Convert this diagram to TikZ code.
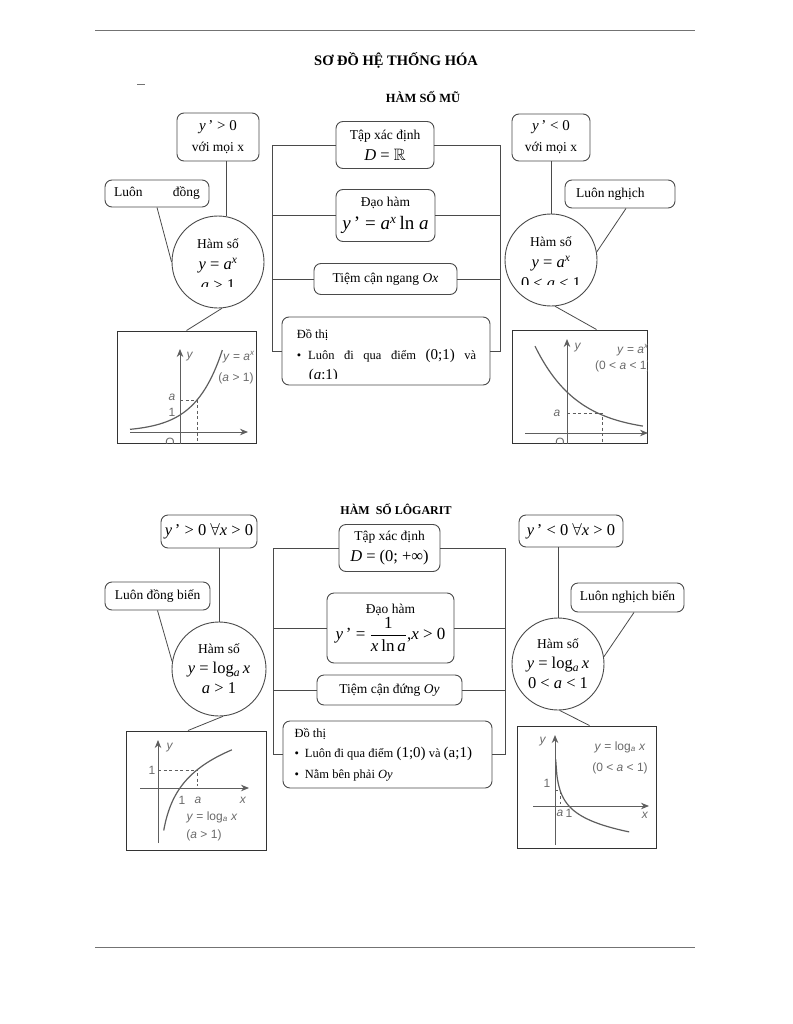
\documentclass[tikz,border=0pt]{standalone}
\usepackage{amsmath,amssymb}
\usepackage{fontspec}
\setmainfont{Liberation Serif}
\newfontfamily\gfont{Liberation Sans}
\usetikzlibrary{calc,arrows.meta}
\definecolor{linec}{HTML}{4A4A4A}
\definecolor{gline}{HTML}{5E5E5E}
\definecolor{gtext}{HTML}{6A6A6A}
\newcommand\bodyf{\fontsize{13.5}{21}\selectfont}
\newcommand\smallf{\fontsize{12.5}{20.5}\selectfont}
\newcommand\mathf{\fontsize{16.5}{21}\selectfont}
\newcommand\mathm{\fontsize{15}{20}\selectfont}
\newcommand\mi[1]{\textit{#1}}
\tikzset{
 conn/.style={draw=linec, line width=0.8pt},
 rulel/.style={draw=black!55, line width=0.6pt},
 rbox/.style={draw=linec, line width=0.9pt, rounded corners=7pt, align=center, inner sep=0pt, font=\bodyf},
 circ/.style={draw=linec, line width=0.9pt, circle, inner sep=0pt},
 gbox/.style={draw=black!80, line width=1pt, rectangle, inner sep=0pt},
 gax/.style={draw=gline, line width=1pt, -{Stealth[length=8pt,width=6.5pt]}},
 gcurve/.style={draw=gline, line width=1.2pt},
 gdash/.style={draw=gline, line width=0.9pt, dash pattern=on 3pt off 2.5pt},
 glab/.style={text=gtext, font=\gfont\fontsize{12}{14}\selectfont, inner sep=0pt},
 ctext/.style={draw=none, rectangle, align=center, inner sep=0pt, font=\bodyf},
}
\begin{document}
\begin{tikzpicture}[x=1pt,y=-1pt]
\useasboundingbox (0,0) rectangle (792,1024);
% page rules
\draw[rulel] (95,30) -- (695,30);
\draw[rulel] (95,947) -- (695,947);
\draw[rulel] (137,84) -- (145,84);
% titles
\node[font=\bfseries\fontsize{14.5}{17}\selectfont] (title) at (396,60) {SƠ ĐỒ HỆ THỐNG HÓA};
\node[font=\bfseries\fontsize{12.5}{15}\selectfont] (sub1) at (423,97) {HÀM SỐ MŨ};
\node[font=\bfseries\fontsize{12}{15}\selectfont] (sub2) at (396,509) {HÀM\ \ SỐ LÔGARIT};

% ===================== HAM SO MU =====================
\node[rbox, minimum width=82, minimum height=48] (b1) at (218,137) {{\mathm\mi{y}\,' > 0}\\với mọi x};
\node[rbox, minimum width=104, minimum height=27] (b2) at (157,193.5) {\makebox[86pt][s]{Luôn đồng}};
\node[rbox, minimum width=78, minimum height=47] (b3) at (551,137.5) {{\mathm\mi{y}\,' < 0}\\với mọi x};
\node[rbox, minimum width=110, minimum height=28] (b4) at (620,194) {\makebox[96pt][l]{\hspace{4pt}Luôn nghịch}};

\node[circ, minimum size=92, path picture={
  \clip ([xshift=-50pt,yshift=50pt]path picture bounding box.center) rectangle ([xshift=50pt,yshift=-24pt]path picture bounding box.center);
  \node[ctext] at ([yshift=-3pt]path picture bounding box.center) {Hàm số\\{\mathf\mi{y} = \mi{a}\textsuperscript{\mi{x}}}\\{\mathf\mi{a} > 1}};
}] (c1) at (218,262) {};
\node[circ, minimum size=92, path picture={
  \clip ([xshift=-50pt,yshift=50pt]path picture bounding box.center) rectangle ([xshift=50pt,yshift=-24pt]path picture bounding box.center);
  \node[ctext] at ([yshift=-3pt]path picture bounding box.center) {Hàm số\\{\mathf\mi{y} = \mi{a}\textsuperscript{\mi{x}}}\\{\mathf 0 < \mi{a} < 1}};
}] (c2) at (551,260) {};

\node[rbox, minimum width=98, minimum height=47] (t1) at (385,145) {Tập xác định\\{\mathf\mi{D} = $\mathbb{R}$}};
\node[rbox, minimum width=99, minimum height=52] (t2) at (385.5,215.5) {Đạo hàm\\[2pt]{\fontsize{19}{21}\selectfont\mi{y}\,' = \mi{a}\textsuperscript{\mi{x}}\,ln \mi{a}}};
\node[rbox, minimum width=143, minimum height=31] (t3) at (385.5,279) {Tiệm cận ngang \mi{Ox}};
\node[rbox, minimum width=208, minimum height=68, path picture={
  \clip ([xshift=-2pt,yshift=2pt]path picture bounding box.north west) rectangle ([xshift=2pt,yshift=-27pt]path picture bounding box.east);
  \node[ctext, font=\smallf, align=left, anchor=north west] at ([xshift=0pt,yshift=-5pt]path picture bounding box.north west)
   {Đồ thị\\\textbullet\hspace{7pt}\makebox[168pt][s]{Luôn đi qua điểm {\mathm(0;1)} và}\\\hspace{12pt}{\mathm(\mi{a};1)}};
}] (t4) at (386,351) {};

\coordinate (LX1) at (272,0);
\coordinate (RX1) at (500,0);
\draw[conn] (t1.west) -- (t1.west -| LX1) -- (t4.west -| LX1) -- (t4.west);
\draw[conn] (t2.west) -- (t2.west -| LX1);
\draw[conn] (t3.west) -- (t3.west -| LX1);
\draw[conn] (t1.east) -- (t1.east -| RX1) -- (t4.east -| RX1) -- (t4.east);
\draw[conn] (t2.east) -- (t2.east -| RX1);
\draw[conn] (t3.east) -- (t3.east -| RX1);

\node[gbox, minimum width=139, minimum height=112] (g1) at (186.5,387) {};
\node[gbox, minimum width=135, minimum height=113] (g2) at (579.5,386.5) {};

\draw[conn] (c1.79) -- (c1.79 |- b1.south);
\draw[conn] (b2.south) -- (c1.180);
\draw[conn] (c1.275) -- (g1.north);
\draw[conn] (b3.south) -- (c2.north);
\draw[conn] ($(b4.south)+(6,0)$) -- (c2.10);
\draw[conn] (c2.275) -- ($(g2.north)+(17,0)$);

% graph 1
\begin{scope}
\clip (g1.south west) rectangle (g1.north east);
\draw[gax] (180,450) -- (180,349);
\draw[gax] (130,432) -- (248,432);
\draw[gcurve] plot[domain=-2.94:2.49,samples=60,smooth] ({180+17*\x},{432-17*exp(0.6313*\x)});
\draw[gdash] (180,400) -- (197,400) -- (197,445);
\node[glab] (la1) at (190,357) {\textit{y}};
\node[glab,anchor=west] (la2) at (223,357) {\textit{y} = \textit{a}\textsuperscript{\textit{x}}};
\node[glab] (la3) at (236,378) {(\textit{a} > 1)};
\node[glab] (la4) at (172,397) {\textit{a}};
\node[glab] (la5) at (172,412) {1};
\node[glab] (la6) at (170,442) {O};
\end{scope}

% graph 2
\begin{scope}
\clip (g2.south west) rectangle (g2.north east);
\draw[gax] (567,450) -- (567,339);
\draw[gax] (525,433) -- (648,433);
\draw[gcurve] plot[domain=-0.914:2.17,samples=60,smooth] ({567+35*\x},{433-41*exp(-0.821*\x)});
\draw[gdash] (567,413) -- (602,413) -- (602,445);
\node[glab] (lb1) at (578,348) {\textit{y}};
\node[glab,anchor=west] (lb2) at (617,350) {\textit{y} = \textit{a}\textsuperscript{\textit{x}}};
\node[glab,anchor=west] (lb3) at (595,366) {(0 < \textit{a} < 1)};
\node[glab] (lb4) at (557,413) {\textit{a}};
\node[glab] (lb5) at (560,442) {O};
\end{scope}

% ===================== HAM SO LOGARIT =====================
\node[rbox, minimum width=96, minimum height=33] (b5) at (209,531.5) {{\mathf\mi{y}\,' > 0 $\forall$\mi{x} > 0}};
\node[rbox, minimum width=105, minimum height=28] (b6) at (157.5,596) {Luôn đồng biến};
\node[rbox, minimum width=104, minimum height=32] (b7) at (571,531) {{\mathf\mi{y}\,' < 0 $\forall$\mi{x} > 0}};
\node[rbox, minimum width=113, minimum height=29] (b8) at (627.5,597.5) {Luôn nghịch biến};

\node[circ, minimum size=94] (c3) at (219,669) {};
\node[ctext] (c3t) at (c3) {Hàm số\\[-1pt]{\mathf\mi{y} = log\textsubscript{\mi{a}}\,\mi{x}}\\[-1pt]{\mathf\mi{a} > 1}};
\node[circ, minimum size=92] (c4) at (558,664) {};
\node[ctext] (c4t) at (c4) {Hàm số\\[-1pt]{\mathf\mi{y} = log\textsubscript{\mi{a}}\,\mi{x}}\\[-1pt]{\mathf 0 < \mi{a} < 1}};

\node[rbox, minimum width=101, minimum height=47] (t5) at (389.5,548) {Tập xác định\\{\mathf\mi{D} = (0; +∞)}};
\node[rbox, minimum width=127, minimum height=70] (t6) at (390.5,628) {Đạo hàm\\{\fontsize{17}{21}\selectfont\mi{y}\,' = $\dfrac{\text{1}}{\text{\mi{x}\,ln\,\mi{a}}}$,\mi{x} > 0}};
\node[rbox, minimum width=145, minimum height=30] (t7) at (389.5,690) {Tiệm cận đứng \mi{Oy}};
\node[rbox, minimum width=209, minimum height=67, align=left, font=\smallf] (t8) at (387.5,754.5)
  {\makebox[186pt][l]{Đồ thị}\\\mbox{\textbullet\hspace{6pt}Luôn đi qua điểm {\mathm(1;0)} và {\mathm(a;1)}}\\\textbullet\hspace{6pt}Nằm bên phải \mi{Oy}};

\coordinate (LX2) at (273,0);
\coordinate (RX2) at (505,0);
\draw[conn] (t5.west) -- (t5.west -| LX2) -- (t8.west -| LX2) -- (t8.west);
\draw[conn] (t6.west) -- (t6.west -| LX2);
\draw[conn] (t7.west) -- (t7.west -| LX2);
\draw[conn] (t5.east) -- (t5.east -| RX2) -- (t8.east -| RX2) -- (t8.east);
\draw[conn] (t6.east) -- (t6.east -| RX2);
\draw[conn] (t7.east) -- (t7.east -| RX2);

\node[gbox, minimum width=140, minimum height=119] (g3) at (196,790.5) {};
\node[gbox, minimum width=139, minimum height=122] (g4) at (586.5,787) {};

\draw[conn] (c3.north) -- (c3.north |- b5.south);
\draw[conn] (b6.south) -- (c3.171);
\draw[conn] (c3.275) -- ($(g3.north)+(-8,0)$);
\draw[conn] (c4.north) -- (c4.north |- b7.south);
\draw[conn] ($(b8.south)+(6.5,0)$) -- (c4.9);
\draw[conn] (c4.272) -- ($(g4.north)+(3,0)$);

% graph 3
\begin{scope}
\clip (g3.south west) rectangle (g3.north east);
\draw[gax] (158,843) -- (158,740);
\draw[gax] (140,788) -- (249,788);
\draw[gcurve] plot[domain=0.26:3.36,samples=60,smooth] ({158+22*\x},{788-18*ln(\x)/0.571});
\draw[gdash] (158,770) -- (197,770);
\draw[gdash] (197,773) -- (197,786);
\node[glab] (lc1) at (170,748) {\textit{y}};
\node[glab] (lc2) at (152,770) {1};
\node[glab] (lc3) at (182,800) {1};
\node[glab] (lc4) at (198,800) {\textit{a}};
\node[glab] (lc5) at (243,800) {\textit{x}};
\node[glab] (lc6) at (212,817) {\textit{y} = log\textsubscript{\textit{a}} \textit{x}};
\node[glab] (lc7) at (204,835) {(\textit{a} > 1)};
\end{scope}

% graph 4
\begin{scope}
\clip (g4.south west) rectangle (g4.north east);
\draw[gax] (555,845) -- (555,735);
\draw[gax] (533,806) -- (649,806);
\draw[gcurve] plot[domain=0.05:5.3,samples=60,smooth] ({555+14*\x},{806+16*ln(\x)/1.03});
\draw[gdash] (555,790) -- (560,790) -- (560,804);
\node[glab] (ld1) at (543,742) {\textit{y}};
\node[glab] (ld2) at (645,815) {\textit{x}};
\node[glab] (ld3) at (620,747) {\textit{y} = log\textsubscript{\textit{a}} \textit{x}};
\node[glab] (ld4) at (620,768) {(0 < \textit{a} < 1)};
\node[glab] (ld5) at (547,783) {1};
\node[glab] (ld6) at (560,813) {\textit{a}};
\node[glab] (ld7) at (569,813) {1};
\end{scope}
\end{tikzpicture}
\end{document}
